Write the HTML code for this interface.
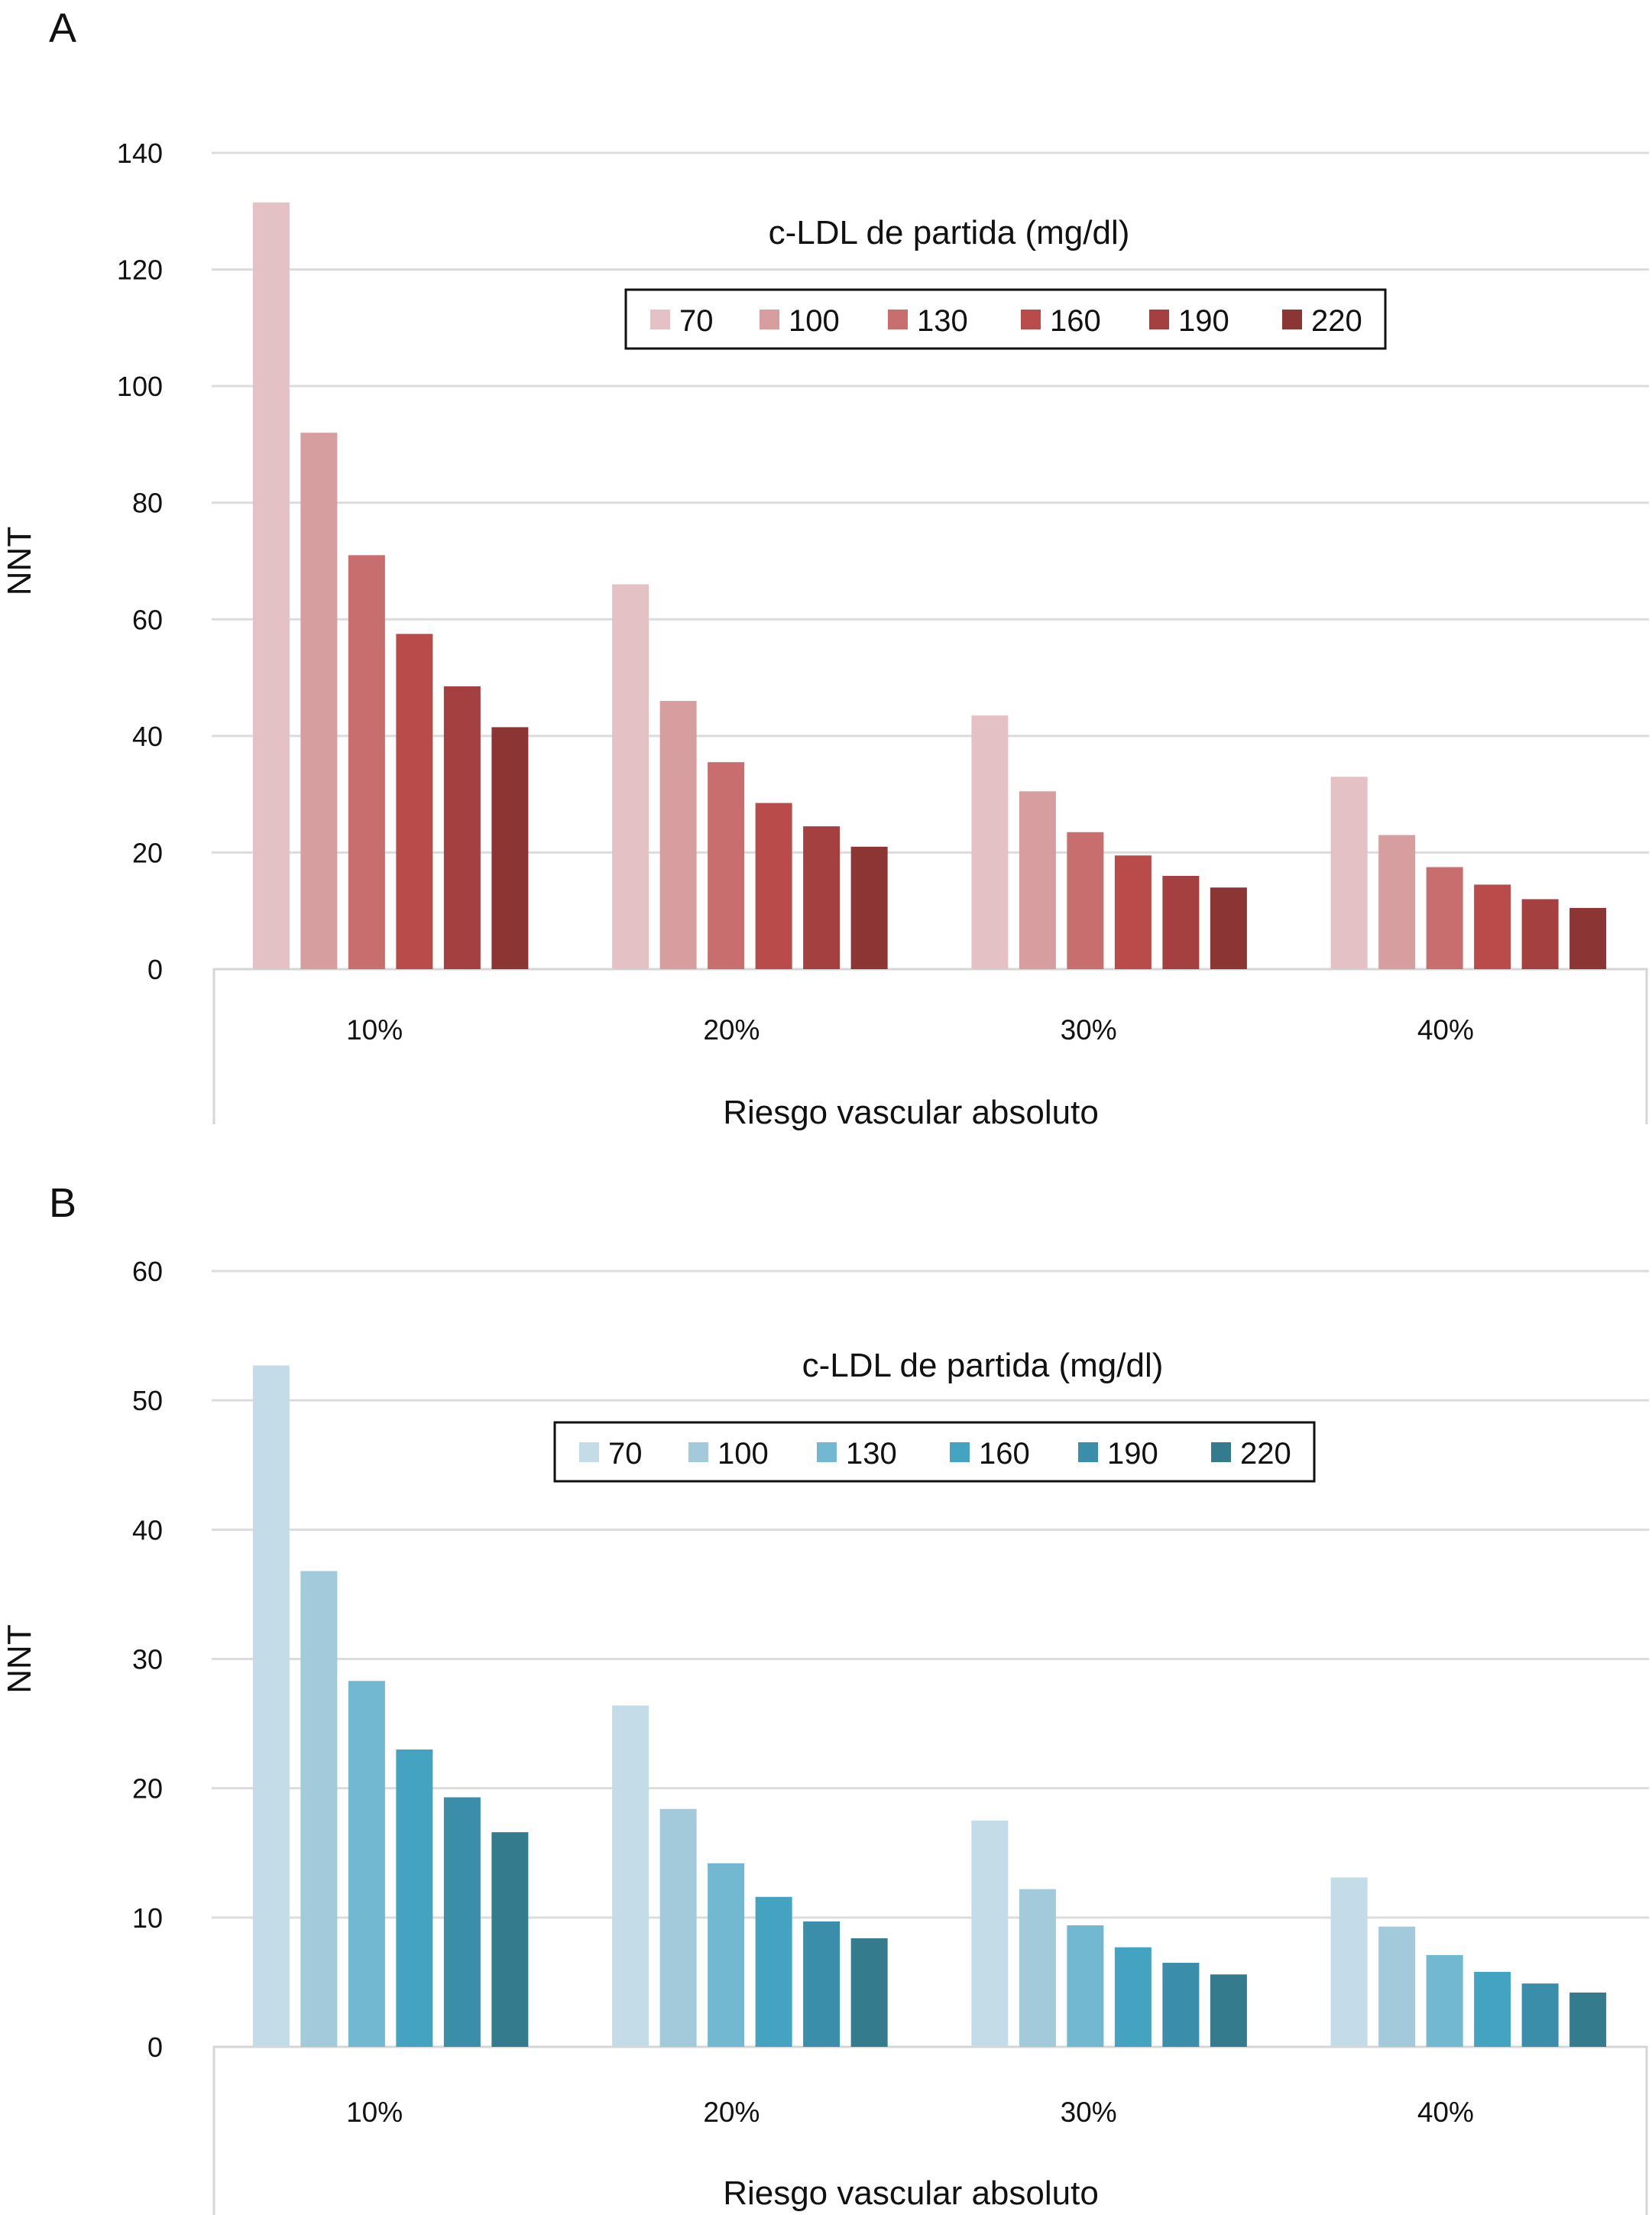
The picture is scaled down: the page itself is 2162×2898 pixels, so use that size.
<!DOCTYPE html>
<html><head><meta charset="utf-8"><style>
html,body{margin:0;padding:0;background:#fff}
svg{display:block}
text{font-family:"Liberation Sans",sans-serif;fill:#111}
</style></head><body>
<svg id="chart" width="2162" height="2898" viewBox="0 0 2162 2898" xmlns="http://www.w3.org/2000/svg"></svg>
<script>
const categories = ["10%","20%","30%","40%"];
const seriesLabels = ["70","100","130","160","190","220"];
const valuesA70 = [131.5,66,43.5,33];
const valuesA100 = [92,46,30.5,23];
const valuesA130 = [71,35.5,23.5,17.5];
const valuesA160 = [57.5,28.5,19.5,14.5];
const valuesA190 = [48.5,24.5,16,12];
const valuesA220 = [41.5,21,14,10.5];
const valuesB70 = [52.7,26.4,17.5,13.1];
const valuesB100 = [36.8,18.4,12.2,9.3];
const valuesB130 = [28.3,14.2,9.4,7.1];
const valuesB160 = [23,11.6,7.7,5.8];
const valuesB190 = [19.3,9.7,6.5,4.9];
const valuesB220 = [16.6,8.4,5.6,4.2];
const ticksA = [0,20,40,60,80,100,120,140];
const ticksB = [0,10,20,30,40,50,60];

const NS="http://www.w3.org/2000/svg";
const svg=document.getElementById('chart');
function mk(tag,attrs,parent,txt){const e=document.createElementNS(NS,tag);for(const k in attrs)e.setAttribute(k,attrs[k]);if(txt!==undefined)e.textContent=txt;(parent||svg).appendChild(e);return e;}

function drawChart(cfg){
  const g=mk('g',{});
  
  
  const left=277,right=2158,top=cfg.top,base=cfg.base,max=cfg.ticks[cfg.ticks.length-1];
  const y=v=>base-(v/max)*(base-top);
  const band=(right-left)/categories.length;
  const pitch=62.5,bw=48;
  const x=(ci,si)=>left+band*ci+band/2-1-pitch*2.5+pitch*si-bw/2;
  const L=mk('text',{x:64,y:cfg.letterY,'font-size':54},g,cfg.letter);
  
  
  cfg.ticks.forEach(t=>{
    if(t>0){const ln=mk('line',{x1:left,x2:right,y1:y(t),y2:y(t),stroke:'#dcdcdc','stroke-width':3},g);
      
      }
    const tx=mk('text',{x:213,y:y(t)+13,'font-size':36,'text-anchor':'end'},g,String(t));
    
    
  });
  const box=mk('path',{d:`M${left+3},${cfg.boxBottom} L${left+3},${base} L${right-3},${base} L${right-3},${cfg.boxBottom}`,fill:'none',stroke:'#d6d6d6','stroke-width':3},g);
  
  
  cfg.series.forEach((vals,si)=>{
    vals.forEach((v,ci)=>{
      const r=mk('rect',{x:x(ci,si),y:y(v),width:bw,height:base-y(v),fill:cfg.colors[si]},g);
      
      
    });
  });
  categories.forEach((c,ci)=>{
    const t=mk('text',{x:left+band*ci+band/2-22-ci*3,y:cfg.catY,'font-size':37,'text-anchor':'middle'},g,c);
    
    
  });
  const xt=mk('text',{x:1192,y:cfg.xTitleY,'font-size':44,'text-anchor':'middle'},g,'Riesgo vascular absoluto');
  
  
  const yt=mk('text',{x:0,y:0,'font-size':44,'text-anchor':'middle',transform:`translate(40,${(top+base)/2}) rotate(-90)`},g,'NNT');
  
  
  const lt=mk('text',{x:cfg.legTitleX,y:cfg.legY-60,'font-size':44,'text-anchor':'middle'},g,'c-LDL de partida (mg/dl)');
  
  
  const lb=mk('rect',{x:cfg.legX,y:cfg.legY,width:994,height:77,fill:'#fff',stroke:'#111','stroke-width':3},g);
  
  
  const offs=[32,175,343,517,685,859];
  seriesLabels.forEach((s,si)=>{
    const sw=mk('rect',{x:cfg.legX+offs[si],y:cfg.legY+26,width:26,height:26,fill:cfg.colors[si]},g);
    
    
    const st=mk('text',{x:cfg.legX+offs[si]+38,y:cfg.legY+54,'font-size':40},g,s);
    
    
  });
}
drawChart({name:'chart-a',letter:'A',letterY:55,top:200,base:1268,boxBottom:1471,ticks:ticksA,catY:1360,xTitleY:1470,legX:819,legY:379,legTitleX:1242,
  series:[valuesA70,valuesA100,valuesA130,valuesA160,valuesA190,valuesA220],
  colors:['#e3c1c4','#d69e9f','#c96e6e','#b94c4a','#a54040','#8c3535']});
drawChart({name:'chart-b',letter:'B',letterY:1592,top:1663,base:2678,boxBottom:2898,ticks:ticksB,catY:2776,xTitleY:2884,legX:726,legY:1861,legTitleX:1286,
  series:[valuesB70,valuesB100,valuesB130,valuesB160,valuesB190,valuesB220],
  colors:['#c4dce7','#a2cadb','#72b8d0','#45a3c2','#3a8ea9','#347b8e']});
</script>
</body></html>
